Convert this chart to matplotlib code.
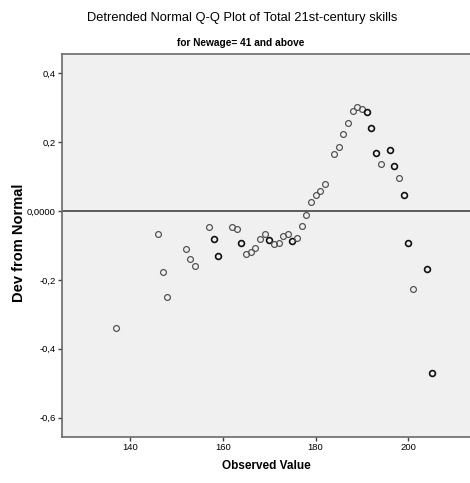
import matplotlib
matplotlib.use("Agg")
import matplotlib.pyplot as plt
from matplotlib.ticker import FixedLocator

# observed values and their deviation from the normal line
observed = [137, 146, 147, 148, 152, 153, 154, 157, 158, 159, 162, 163, 164,
            165, 166, 167, 168, 169, 170, 171, 172, 173, 174, 175, 176, 177,
            178, 179, 180, 181, 182, 184, 185, 186, 187, 188, 189, 190, 191,
            192, 193, 194, 196, 197, 198, 199, 200, 201, 204, 205]
deviation = [-0.340, -0.066, -0.178, -0.249, -0.111, -0.140, -0.159, -0.047,
             -0.081, -0.131, -0.045, -0.053, -0.094, -0.126, -0.119, -0.108,
             -0.081, -0.068, -0.083, -0.096, -0.092, -0.073, -0.067, -0.088,
             -0.078, -0.044, -0.010, 0.026, 0.048, 0.058, 0.080, 0.165, 0.187,
             0.223, 0.256, 0.292, 0.302, 0.296, 0.289, 0.241, 0.170, 0.137,
             0.177, 0.131, 0.095, 0.048, -0.093, -0.227, -0.167, -0.469]
# values that appear more than once (drawn darker)
repeated = [158, 159, 164, 170, 175, 191, 192, 193, 196, 197, 199, 200, 204, 205]

x_ticks = [140, 160, 180, 200]
y_ticks = [-0.6, -0.4, -0.2, 0.0, 0.2, 0.4]
y_labels = ["-0,6", "-0,4", "-0,2", "0,0000", "0,2", "0,4"]

font = ["Liberation Sans", "DejaVu Sans"]

fig = plt.figure(figsize=(4.70, 4.83), dpi=100)
ax = fig.add_axes([0.132, 0.0955, 0.87, 0.7935])
ax.set_facecolor("#f0f0f0")

ax.axhline(0, color="#505050", lw=1.3, zorder=1)

for x, y in zip(observed, deviation):
    if x in repeated:
        ec, lw = "#111111", 1.2
    else:
        ec, lw = "#555555", 0.9
    ax.plot(x, y, 'o', markersize=4.2, markerfacecolor="none",
            markeredgecolor=ec, markeredgewidth=lw, zorder=3)

ax.set_xlim(125.3, 213.5)
ax.set_ylim(-0.656, 0.4575)
ax.xaxis.set_major_locator(FixedLocator(x_ticks))
ax.yaxis.set_major_locator(FixedLocator(y_ticks))
ax.set_xticklabels([str(t) for t in x_ticks], family=font, fontsize=6.8)
ax.set_yticklabels(y_labels, family=font, fontsize=6.8)
ax.tick_params(direction="out", length=3, width=1, color="#404040", pad=1.5)

for side in ["left", "bottom", "top"]:
    ax.spines[side].set_color("#6a6a6a")
    ax.spines[side].set_linewidth(1.2)
ax.spines["right"].set_visible(False)

ax.set_xlabel("Observed Value", family=font, fontsize=8.5, fontweight="bold",
              labelpad=6)
fig.text(0.040, 0.497, "Dev from Normal", family=font, fontsize=10.5,
         fontweight="bold", rotation=90, ha="center", va="center")

fig.text(0.515, 0.963, "Detrended Normal Q-Q Plot of Total 21st-century skills",
         family=font, fontsize=9.3, ha="center", va="center")
fig.text(0.513, 0.911, "for Newage= 41 and above", family=font, fontsize=7.3,
         fontweight="bold", ha="center", va="center")

fig.savefig("out.png", dpi=100)
